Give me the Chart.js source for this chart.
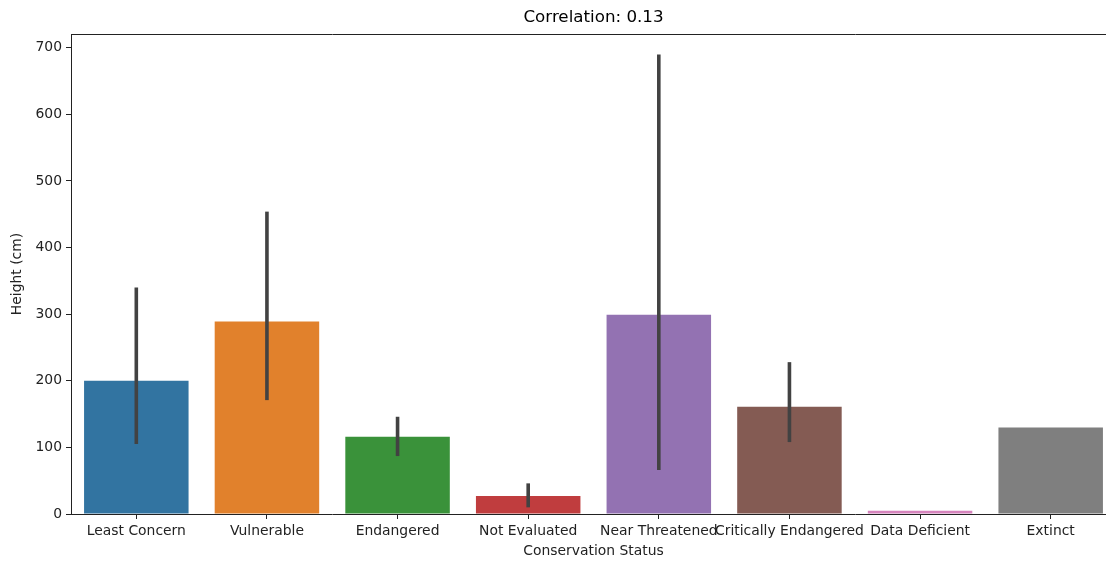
<!DOCTYPE html>
<html>
<head>
<meta charset="utf-8">
<script src="https://cdn.jsdelivr.net/npm/chart.js@4"></script>
<style>
	html, body { margin: 0; padding: 0; background: #fff; overflow: hidden; }
	#wrap { width: 1116px; height: 561px; }
</style>
</head>
<body>
<div id="wrap"><canvas id="chart"></canvas></div>
<script>
const categories = ['Least Concern', 'Vulnerable', 'Endangered', 'Not Evaluated',
	'Near Threatened', 'Critically Endangered', 'Data Deficient', 'Extinct'];
const heights = [200, 289, 116, 27, 299, 161, 5, 130];
const ciLow = [105, 171, 87, 10, 66, 108, null, null];
const ciHigh = [340, 454, 146, 46, 690, 228, null, null];
const barColors = ['#3274a1', '#e1812c', '#3a923a', '#c03d3e', '#9372b2', '#845b53', '#d684bd', '#7f7f7f'];
const yTicks = [0, 100, 200, 300, 400, 500, 600, 700];
const chartTitle = 'Correlation: 0.13';

const FONT = 'DejaVu Sans';
const INK = '#222';

// seaborn style error bars, placed through the chart scales
const errorBars = {
	id: 'errorBars',
	afterDatasetsDraw(chart) {
		const ctx = chart.ctx;
		const xs = chart.scales.x, ys = chart.scales.y;
		ctx.save();
		ctx.strokeStyle = '#424242';
		ctx.lineWidth = 3.6;
		ctx.lineCap = 'butt';
		categories.forEach((c, i) => {
			if (ciLow[i] == null) return;
			const x = xs.getPixelForValue(i);
			ctx.beginPath();
			ctx.moveTo(x, ys.getPixelForValue(ciLow[i]));
			ctx.lineTo(x, ys.getPixelForValue(ciHigh[i]));
			ctx.stroke();
		});
		ctx.restore();
	}
};

// title centred over the axes, like matplotlib
const axesTitle = {
	id: 'axesTitle',
	afterDraw(chart) {
		const ctx = chart.ctx, a = chart.chartArea;
		ctx.save();
		ctx.fillStyle = '#000';
		ctx.font = '16.7px "' + FONT + '"';
		ctx.textAlign = 'center';
		ctx.textBaseline = 'middle';
		ctx.fillText(chartTitle, (a.left + a.right) / 2, 18);
		ctx.restore();
	}
};

new Chart(document.getElementById('chart'), {
	type: 'bar',
	data: {
		labels: categories,
		datasets: [{
			data: heights,
			backgroundColor: barColors,
			borderWidth: 0,
			barPercentage: 0.8,
			categoryPercentage: 1.0
		}]
	},
	options: {
		responsive: true,
		maintainAspectRatio: false,
		animation: false,
		layout: { padding: { left: 0, right: 0, top: 34, bottom: 0 } },
		plugins: {
			legend: { display: false },
			tooltip: { enabled: false },
			title: { display: false }
		},
		scales: {
			x: {
				type: 'category',
				offset: true,
				grid: { display: true, drawOnChartArea: false, offset: false, tickLength: 5, color: INK },
				border: { display: true, color: INK, width: 1 },
				ticks: {
					color: INK, autoSkip: false, maxRotation: 0, minRotation: 0, padding: 4,
					font: { family: FONT, size: 13.9 }
				},
				title: {
					display: true, text: 'Conservation Status', color: INK, padding: 1,
					font: { family: FONT, size: 13.9 }
				},
				afterFit: s => { s.height = 47; }
			},
			x2: {
				type: 'linear',
				position: 'top',
				display: true,
				grid: { display: false },
				ticks: { display: false },
				border: { display: true, color: INK, width: 1 },
				afterFit: s => { s.height = 0; }
			},
			y: {
				min: 0,
				max: 720.7,
				grid: { display: true, drawOnChartArea: false, tickLength: 5, color: INK },
				border: { display: true, color: INK, width: 1 },
				afterBuildTicks: s => { s.ticks = yTicks.map(v => ({ value: v })); },
				ticks: {
					color: INK, padding: 4,
					font: { family: FONT, size: 13.9 }
				},
				title: {
					display: true, text: 'Height (cm)', color: INK, padding: 9,
					font: { family: FONT, size: 13.9 }
				},
				afterFit: s => { s.width = 71; }
			}
		}
	},
	plugins: [errorBars, axesTitle]
});
</script>
</body>
</html>
